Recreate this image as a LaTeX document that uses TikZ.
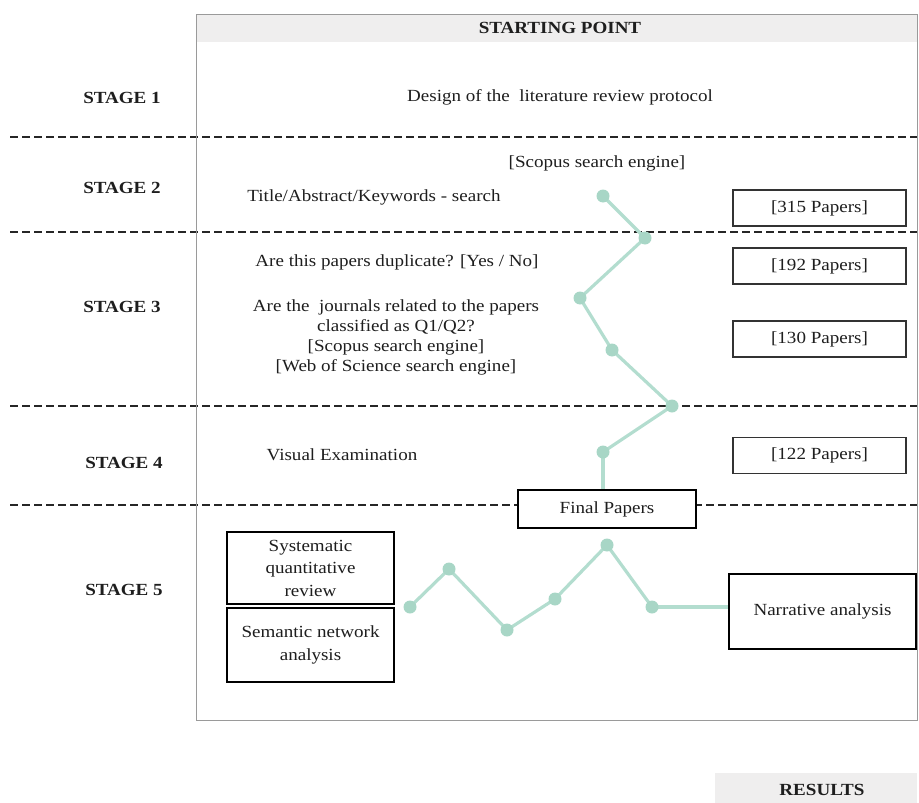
\documentclass[tikz,border=0pt]{standalone}
\usepackage{fontspec}
\setmainfont{Liberation Serif}[FakeStretch=1.12]
\usetikzlibrary{backgrounds}
\definecolor{tealg}{HTML}{B3DDCF}
\definecolor{tealdot}{HTML}{A8D6C6}
\definecolor{txt}{HTML}{1E1E1E}
\definecolor{bandgray}{HTML}{EFEEEE}
\definecolor{framegray}{HTML}{9A9A9A}
\begin{document}
\begin{tikzpicture}[x=1pt,y=-1pt,
  every node/.style={font=\fontsize{17}{20}\selectfont, text=txt},
  stagelbl/.style={font=\fontsize{17}{20}\selectfont\bfseries},
  dashline/.style={line width=2.6pt, dash pattern=on 8pt off 4pt, black!85},
  paperbox/.style={draw=black!80, line width=1.5pt, fill=white, minimum width=173pt, minimum height=36pt, inner sep=0pt},
  bigbox/.style={draw=black, line width=2.4pt, fill=white, align=center, inner sep=0pt, font=\fontsize{17}{22.5}\selectfont},
  gline/.style={draw=tealg, line width=3.2pt},
  gdot/.style={circle, fill=tealdot, minimum size=13pt, inner sep=0pt}]
\useasboundingbox (0,0) rectangle (919,803);

% stage labels and band titles
\node[stagelbl] (sp) at (560,28) {STARTING POINT};
\node[stagelbl] (res) at (822,790) {RESULTS};
\node[stagelbl] (s1) at (122,98) {STAGE 1};
\node[stagelbl] (s2) at (122,188) {STAGE 2};
\node[stagelbl] (s3) at (122,307) {STAGE 3};
\node[stagelbl] (s4) at (124,463) {STAGE 4};
\node[stagelbl] (s5) at (124,590) {STAGE 5};

% green path nodes
\node[gdot] (g1) at (603,196) {};
\node[gdot] (g2) at (645,238) {};
\node[gdot] (g3) at (580,298) {};
\node[gdot] (g4) at (612,350) {};
\node[gdot] (g5) at (672,406) {};
\node[gdot] (g6) at (603,452) {};
\node[gdot] (h1) at (410,607) {};
\node[gdot] (h2) at (449,569) {};
\node[gdot] (h3) at (507,630) {};
\node[gdot] (h4) at (555,599) {};
\node[gdot] (h5) at (607,545) {};
\node[gdot] (h6) at (652,607) {};

% boxes
\node[bigbox, minimum width=178pt, minimum height=38pt] (fp) at (607,509) {Final Papers};
\node[bigbox, minimum width=187pt, minimum height=75pt] (nar) at (822.5,611.5) {Narrative analysis};
\node[bigbox, minimum width=167pt, minimum height=72pt] (sys) at (310.5,568) {Systematic\\quantitative\\review};
\node[bigbox, minimum width=167pt, minimum height=74pt] (sem) at (310.5,645) {Semantic network\\analysis};

% paper boxes
\node[paperbox] (p315) at (819.5,208) {[315 Papers]};
\node[paperbox] (p192) at (819.5,266) {[192 Papers]};
\node[paperbox] (p130) at (819.5,339) {[130 Papers]};
\node[paperbox] (p122) at (819.5,455.5) {[122 Papers]};

% texts
\node (t1) at (560,97) {Design of the\ \ literature review protocol};
\node (t2) at (597,163) {[Scopus search engine]};
\node (t3) at (374,197) {Title/Abstract/Keywords - search};
\node (t4) at (397,262) {Are this papers duplicate? [Yes / No]};
\node[align=center] (t5) at (396,337) {Are the\ \ journals related to the papers\\classified as Q1/Q2?\\{}[Scopus search engine]\\{}[Web of Science search engine]};
\node (t6) at (342,455) {Visual Examination};

\begin{scope}[on background layer]
  % dashed separators
  \draw[dashline] (10,137) -- (919,137);
  \draw[dashline] (10,232) -- (919,232);
  \draw[dashline] (10,406) -- (919,406);
  \draw[dashline] (10,505) -- (919,505);
  % green connectors
  \draw[gline] (g1.center) -- (g2.center) -- (g3.center) -- (g4.center) -- (g5.center) -- (g6.center);
  \draw[gline] (g6.center) -- (g6 |- fp.north);
  \draw[gline] (h1.center) -- (h2.center) -- (h3.center) -- (h4.center) -- (h5.center) -- (h6.center);
  \draw[gline] (h6.center) -- (h6 -| nar.west);
  % frame and bands
  \fill[bandgray] (196,14) rectangle (917,42);
  \draw[framegray, line width=1pt] (196,14) rectangle (917,720);
  \fill[bandgray] (715,773) rectangle (917,803);
\end{scope}
\end{tikzpicture}
\end{document}
